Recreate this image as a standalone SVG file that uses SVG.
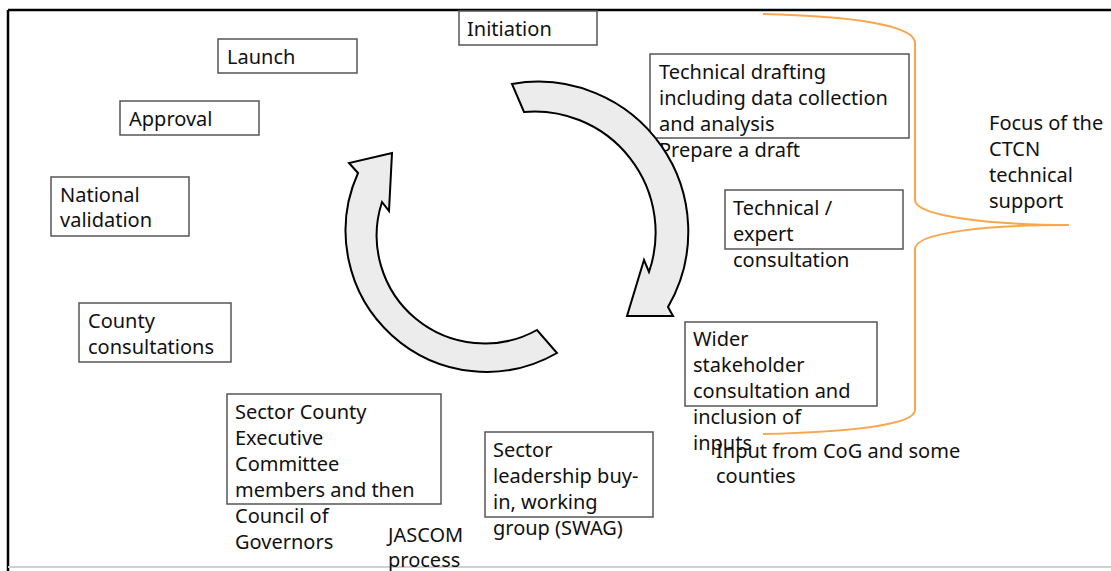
<svg xmlns="http://www.w3.org/2000/svg" width="1111" height="571" viewBox="0 0 1111 571">
<style>
.box{fill:#fff;stroke:#555;stroke-width:1.5}
.t{font-family:"Noto Sans","Liberation Sans",sans-serif;font-size:20px;fill:#111}
.arrow{fill:#ececec;stroke:#000;stroke-width:2;stroke-linejoin:miter}
.brace{fill:none;stroke:#f9a64c;stroke-width:2}
</style>
<rect width="1111" height="571" fill="#fff"/>
<g id="frame">
<line x1="8" y1="10" x2="1111" y2="10" stroke="#000" stroke-width="2.5"/>
<line x1="8" y1="10" x2="8" y2="571" stroke="#000" stroke-width="2.5"/>
<line x1="8" y1="567" x2="1111" y2="567" stroke="#d0d0d0" stroke-width="2"/>
</g>
<g id="launch"><rect class="box" x="218" y="39" width="139" height="34"/><text class="t" x="227" y="64">Launch</text></g>
<g id="initiation"><rect class="box" x="459" y="11" width="138" height="34"/><text class="t" x="467" y="36">Initiation</text></g>
<g id="approval"><rect class="box" x="120" y="101" width="139" height="34"/><text class="t" x="129" y="126">Approval</text></g>
<g id="national-validation"><rect class="box" x="51" y="177" width="138" height="59"/><text class="t" x="60" y="202">National</text><text class="t" x="60" y="227">validation</text></g>
<g id="county-consultations"><rect class="box" x="79" y="303" width="152" height="59"/><text class="t" x="88" y="328">County</text><text class="t" x="88" y="354">consultations</text></g>
<g id="sector-county-exec"><rect class="box" x="227" y="394" width="214" height="110"/>
<text class="t" x="235" y="419">Sector County</text><text class="t" x="235" y="445">Executive</text><text class="t" x="235" y="471">Committee</text><text class="t" x="235" y="497">members and then</text><text class="t" x="235" y="523">Council of</text><text class="t" x="235" y="549">Governors</text></g>
<g id="jascom"><text class="t" x="388" y="542">JASCOM</text><text class="t" x="388" y="567">process</text></g>
<g id="sector-leadership"><rect class="box" x="485" y="432" width="168" height="85"/>
<text class="t" x="493" y="457">Sector</text><text class="t" x="493" y="483">leadership buy-</text><text class="t" x="493" y="509">in, working</text><text class="t" x="493" y="535">group (SWAG)</text></g>
<g id="technical-drafting"><rect class="box" x="650" y="54" width="259" height="84"/>
<text class="t" x="659" y="79">Technical drafting</text><text class="t" x="659" y="105">including data collection</text><text class="t" x="659" y="131">and analysis</text><text class="t" x="659" y="157">Prepare a draft</text></g>
<g id="technical-expert"><rect class="box" x="725" y="190" width="178" height="59"/>
<text class="t" x="733" y="215">Technical /</text><text class="t" x="733" y="241">expert</text><text class="t" x="733" y="267">consultation</text></g>
<g id="wider-stakeholder"><rect class="box" x="685" y="322" width="192" height="84"/>
<text class="t" x="693" y="346">Wider</text><text class="t" x="693" y="372">stakeholder</text><text class="t" x="693" y="398">consultation and</text><text class="t" x="693" y="424">inclusion of</text><text class="t" x="693" y="450">inputs</text></g>
<g id="input-cog"><text class="t" x="716" y="458">Input from CoG and some</text><text class="t" x="716" y="483">counties</text></g>
<g id="focus"><text class="t" x="989" y="130">Focus of the</text><text class="t" x="989" y="156">CTCN</text><text class="t" x="989" y="182">technical</text><text class="t" x="989" y="208">support</text></g>
<g id="connectors">
<path class="arrow" d="M512,84 A150,150 0 0 1 668,307 L673,316 L627,316 L644,260 L649,272 A121,121 0 0 0 524,112 Z"/>
<path class="arrow" d="M557,353 A141,141 0 0 1 358,173 L349,163 L392,153 L389,211 L382,202 A108,108 0 0 0 537,330 Z"/>
<path class="brace" d="M763,14 C850,16 915,25 915,43 L915,200 C915,216 990,225 1069,225 M1069,225 C990,225 915,232 915,249 L915,410 C915,425 850,432 763,434"/>
</g>
</svg>
